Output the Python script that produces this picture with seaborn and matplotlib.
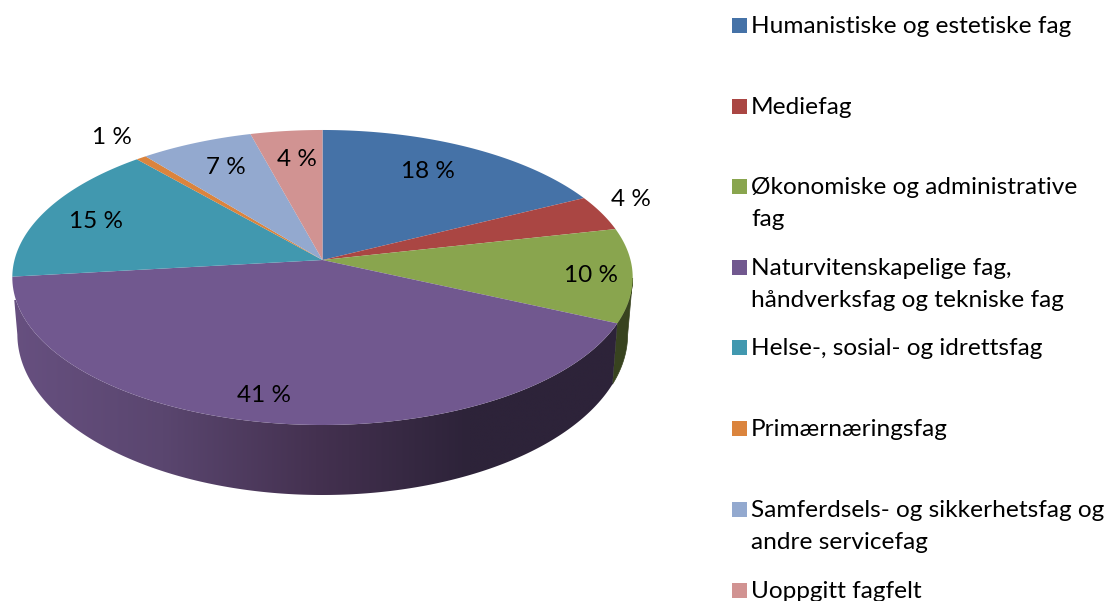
import numpy as np
import matplotlib
matplotlib.use("Agg")
import matplotlib.pyplot as plt
from matplotlib.patches import Polygon, Rectangle
import seaborn as sns

categories = ["Humanistiske og estetiske fag", "Mediefag",
              "Økonomiske og administrative\nfag",
              "Naturvitenskapelige fag,\nhåndverksfag og tekniske fag",
              "Helse-, sosial- og idrettsfag", "Primærnæringsfag",
              "Samferdsels- og sikkerhetsfag og\nandre servicefag", "Uoppgitt fagfelt"]
shares = [17.6, 3.9, 10.3, 41.4, 15.4, 0.6, 6.6, 4.2]
colors = ["#4572a7", "#aa4643", "#89a54e", "#71588f", "#4198af", "#db843d", "#93a9cf", "#d19392"]

sns.set_theme(style="white")
plt.rcParams["font.family"] = ["Lato", "DejaVu Sans"]

# tilted disc, in pixels of the picture
CX = 322.5
K = 0.1186


def rim(theta, apex_y, r, down):
    a = down * (1 - K)
    d = 1 + K * np.cos(theta)
    return CX + r * np.sin(theta) / d, apex_y - a * np.cos(theta) / d


def top(theta):
    return rim(theta, 260, 308, 165)


def bottom(theta):
    return rim(theta, 315, 303, 180)


fig = plt.figure(figsize=(11.08, 6.01), dpi=100)
ax = fig.add_axes([0, 0, 1, 1])
ax.set_xlim(0, 1108)
ax.set_ylim(601, 0)
ax.axis("off")

edges = np.cumsum([0] + shares) / sum(shares) * 2 * np.pi

# side of the disc: only the part facing the viewer
side_start, side_end = np.radians(97), np.radians(263)


def side_poly(lo, hi):
    t = np.linspace(lo, hi, 200)
    xt, yt = top(t)
    xb, yb = bottom(t[::-1])
    return np.c_[np.r_[xt, xb], np.r_[yt, yb]]


ax.add_patch(Polygon(side_poly(side_start, edges[3]), color="#38431f", lw=0.5, zorder=2))

shade = sns.blend_palette(["#2d2339", "#2d2339", "#443150", "#5a466f", "#675080"], as_cmap=True)
grad = ax.imshow(np.linspace(0, 1, 256)[None, :][:, ::-1], extent=(10, 622, 501, 300), cmap=shade,
                 aspect="auto", zorder=2, interpolation="bilinear")
grad.set_clip_path(Polygon(side_poly(edges[3], side_end), transform=ax.transData))
ax.set_xlim(0, 1108)
ax.set_ylim(601, 0)

# top face
for i, c in enumerate(colors):
    t = np.linspace(edges[i], edges[i + 1], 120)
    x, y = top(t)
    ax.fill(np.r_[CX, x], np.r_[260, y], color=c, lw=0, zorder=3)

# percent labels
label_x = [428, 631, 591, 264, 96, 112, 226, 297]
label_y = [171, 199, 276, 395, 222, 138, 168, 159]
for v, lx, ly in zip(shares, label_x, label_y):
    ax.text(lx, ly, f"{v:.0f} %", fontsize=17.5, color="black", ha="center", va="center", zorder=4)

# legend
legend_y = [25, 106, 186, 267, 347, 428, 509, 590]
for name, c, ly in zip(categories, colors, legend_y):
    ax.add_patch(Rectangle((732, ly - 7.5), 15, 15, color=c, lw=0))
    ax.text(751, ly - 9, name, fontsize=17.6, color="black", ha="left", va="top", linespacing=1.62)

fig.savefig("out.png", dpi=100)
